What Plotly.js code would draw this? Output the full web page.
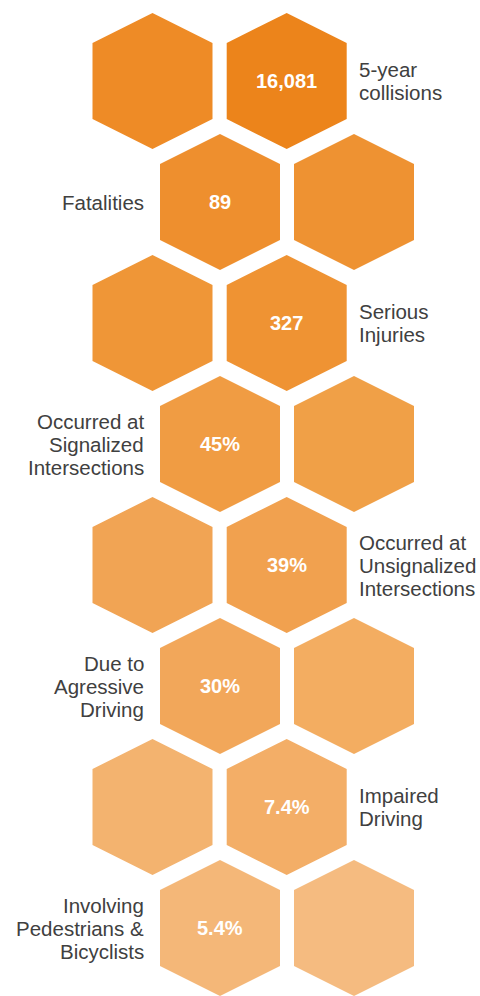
<!DOCTYPE html>
<html>
<head>
<meta charset="utf-8">
<script src="https://cdn.plot.ly/plotly-3.0.1.min.js"></script>
<style>html,body{margin:0;padding:0;background:#fff;}#chart{width:480px;height:996px;}</style>
</head>
<body>
<div id="chart"></div>
<script>
// Data
var categories = ["5-year<br>collisions", "Fatalities", "Serious<br>Injuries", "Occurred at<br>Signalized<br>Intersections",
  "Occurred at<br>Unsignalized<br>Intersections", "Due to<br>Agressive<br>Driving", "Impaired<br>Driving", "Involving<br>Pedestrians &amp;<br>Bicyclists"];
var values = ["16,081", "89", "327", "45%", "39%", "30%", "7.4%", "5.4%"];
var hexColors = [
  ["#EE8B26", "#EC841B"],
  ["#EE8F2E", "#EE9232"],
  ["#EF9637", "#EF9333"],
  ["#F09C43", "#F0A047"],
  ["#F1A454", "#F1A14F"],
  ["#F2A75A", "#F3AD61"],
  ["#F3B36F", "#F3AE67"],
  ["#F4B778", "#F5BB80"]
];

// Layout geometry
var rowY0 = 81, rowStep = 121;
var evenX = [152.5, 286.7], oddX = [220, 354];
var halfW = 60, tipH = 68, sideH = 38;
var lineH = 23;
var FONT = "Liberation Sans, Arial, sans-serif";

function hex(cx, cy) {
  return {
    x: [cx, cx + halfW, cx + halfW, cx, cx - halfW, cx - halfW, cx],
    y: [cy - tipH, cy - sideH, cy + sideH, cy + tipH, cy + sideH, cy - sideH, cy - tipH]
  };
}

var traces = [], annotations = [];
categories.forEach(function (cat, i) {
  var cy = rowY0 + i * rowStep;
  var xs = (i % 2 === 0) ? evenX : oddX;
  xs.forEach(function (cx, j) {
    var h = hex(cx, cy);
    traces.push({
      type: "scatter", mode: "lines", x: h.x, y: h.y, fill: "toself",
      fillcolor: hexColors[i][j], line: {width: 0, color: hexColors[i][j]},
      hoverinfo: "skip", showlegend: false
    });
  });
  var valX = (i % 2 === 0) ? xs[1] : xs[0];
  annotations.push({
    x: valX, y: cy, xref: "x", yref: "y", text: "<b>" + values[i] + "</b>", showarrow: false,
    font: {family: FONT, size: 20, color: "#ffffff"},
    xanchor: "center", yanchor: "middle"
  });
  var lines = cat.split("<br>");
  var n = lines.length;
  lines.forEach(function (ln, k) {
    var ly = cy + (k - (n - 1) / 2) * lineH;
    var left = (i % 2 === 0);
    annotations.push({
      x: left ? 357 : 146, y: ly, xref: "x", yref: "y", text: ln, showarrow: false,
      align: left ? "left" : "right",
      font: {family: FONT, size: 20.5, color: "#404040"},
      xanchor: left ? "left" : "right", yanchor: "middle"
    });
  });
});

var layout = {
  width: 480, height: 996,
  margin: {l: 0, r: 0, t: 0, b: 0},
  paper_bgcolor: "#ffffff", plot_bgcolor: "#ffffff",
  xaxis: {range: [0, 480], visible: false, fixedrange: true},
  yaxis: {range: [996, 0], visible: false, fixedrange: true},
  annotations: annotations,
  showlegend: false
};

Plotly.newPlot("chart", traces, layout, {displayModeBar: false, staticPlot: true});
</script>
</body>
</html>
